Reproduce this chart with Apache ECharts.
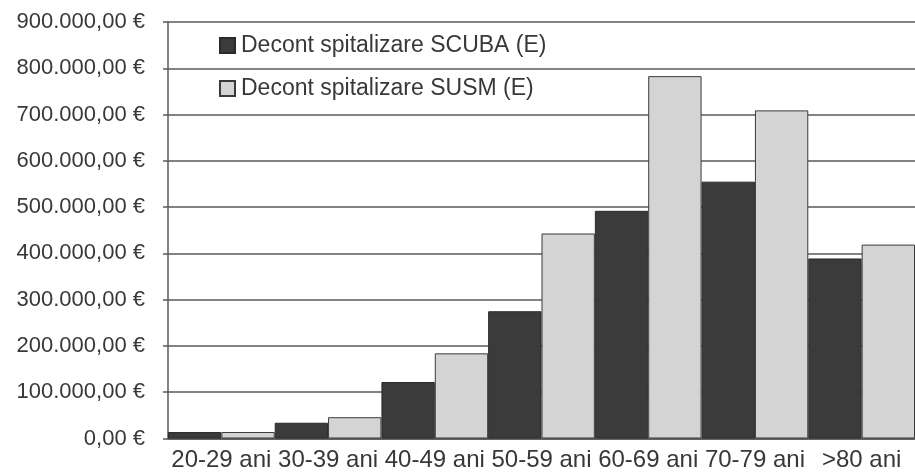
<!DOCTYPE html>
<html>
<head>
<meta charset="utf-8">
<script src="https://cdn.jsdelivr.net/npm/echarts@6/dist/echarts.min.js"></script>
<style>
  html, body { margin: 0; padding: 0; background: #fff; }
  #chart { width: 915px; height: 475px; }
</style>
</head>
<body>
<div id="chart"></div>
<script>
// Age groups on the category axis
const ageGroups = ['20-29 ani', '30-39 ani', '40-49 ani', '50-59 ani', '60-69 ani', '70-79 ani', '>80 ani'];

// Hospitalisation settlements per age group, in euro
const scubaLabel = 'Decont spitalizare SCUBA (E)';
const scubaValues = [14000, 34000, 122000, 275000, 492000, 555000, 389000];

const susmLabel = 'Decont spitalizare SUSM (E)';
const susmValues = [14000, 46000, 184000, 443000, 783000, 709000, 419000];

// Value axis range
const yMin = 0;
const yMax = 900000;
const yStep = 100000;

// "900.000,00 €" style formatting
function euro(v) {
  const intPart = Math.round(v).toString().replace(/\B(?=(\d{3})+(?!\d))/g, '.');
  return intPart + ',00 €';
}

const textColor = '#383838';
const lineColor = '#5a5a5a';
const font = '"Liberation Sans", Arial, sans-serif';

const chart = echarts.init(document.getElementById('chart'), null, { renderer: 'canvas' });

chart.setOption({
  backgroundColor: '#ffffff',
  animation: false,
  grid: { left: 168, top: 22, width: 752, height: 416.5, containLabel: false },
  legend: {
    orient: 'vertical',
    left: 214,
    top: 29,
    itemWidth: 15,
    itemHeight: 15,
    itemGap: 20,
    icon: 'rect',
    textStyle: { fontFamily: font, fontSize: 23, color: textColor, padding: [0, 0, 0, 1] },
    data: [scubaLabel, susmLabel]
  },
  xAxis: {
    type: 'category',
    data: ageGroups,
    axisLine: { show: true, lineStyle: { color: lineColor, width: 1.5 } },
    axisTick: { show: false },
    axisLabel: { fontFamily: font, fontSize: 24, color: textColor, margin: 10, interval: 0 }
  },
  yAxis: {
    type: 'value',
    min: yMin,
    max: yMax,
    interval: yStep,
    axisLine: { show: true, lineStyle: { color: lineColor, width: 1.5 } },
    axisTick: { show: true, length: 5, lineStyle: { color: lineColor, width: 1.5 } },
    axisLabel: { fontFamily: font, fontSize: 22, color: textColor, margin: 23, formatter: euro },
    splitLine: { show: true, lineStyle: { color: lineColor, width: 1.5 } }
  },
  series: [
    {
      name: scubaLabel,
      type: 'bar',
      data: scubaValues,
      barGap: '0%',
      barCategoryGap: '0%',
      itemStyle: { color: '#3b3b3b', borderColor: '#2a2a2a', borderWidth: 1 }
    },
    {
      name: susmLabel,
      type: 'bar',
      data: susmValues,
      barGap: '0%',
      barCategoryGap: '0%',
      itemStyle: { color: '#d4d4d4', borderColor: '#3a3a3a', borderWidth: 1 }
    }
  ]
});
</script>
</body>
</html>
